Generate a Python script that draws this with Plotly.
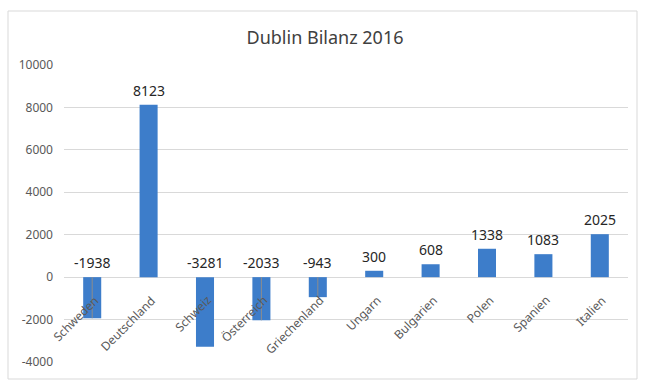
import plotly.graph_objects as go

categories = ["Schweden", "Deutschland", "Schweiz", "Österreich", "Griechenland",
              "Ungarn", "Bulgarien", "Polen", "Spanien", "Italien"]
values = [-1938, 8123, -3281, -2033, -943, 300, 608, 1338, 1083, 2025]
leader_categories = ["Schweden", "Österreich", "Griechenland"]
y_ticks = [-4000, -2000, 0, 2000, 4000, 6000, 8000, 10000]
title_text = "Dublin Bilanz 2016"

y_min, y_max = -4000, 10000
bar_color = "#3d7dca"
grid_color = "#d9d9d9"
font_family = "Noto Sans, Open Sans, sans-serif"

fig = go.Figure()
fig.add_trace(go.Bar(x=categories, y=values, marker=dict(color=bar_color, line=dict(width=0)),
                     width=0.32, showlegend=False, hoverinfo="x+y"))

annotations = []
for c, v in zip(categories, values):
    annotations.append(dict(x=c, y=max(v, 0), text=str(v), showarrow=False,
                            xanchor="center", yanchor="bottom", yshift=3,
                            font=dict(size=14, color="#262626", family=font_family)))
# category labels drawn above bars, rotated like the reference
for c in categories:
    annotations.append(dict(x=c, y=0, text=c, showarrow=False, textangle=-45,
                            xanchor="right", yanchor="top", xshift=13, yshift=-12,
                            font=dict(size=12, color="#595959", family=font_family)))

shapes = []
for c, v in zip(categories, values):
    if c in leader_categories:
        shapes.append(dict(type="line", xref="x", yref="y", x0=c, x1=c, y0=0, y1=v,
                           line=dict(color="#8c8c8c", width=1)))

# chart border
shapes.append(dict(type="rect", xref="paper", yref="paper",
                   x0=(8 - 64) / 564, x1=(637 - 64) / 564,
                   y0=(362 - 379) / 297, y1=(362 - 11) / 297,
                   line=dict(color="#d9d9d9", width=1), fillcolor="rgba(0,0,0,0)", layer="below"))

fig.update_layout(
    width=650, height=389,
    margin=dict(l=64, r=22, t=65, b=27, autoexpand=False),
    paper_bgcolor="white", plot_bgcolor="white",
    title=dict(text=title_text, x=0.5, xref="container", xanchor="center", y=1 - 38 / 389, yanchor="middle",
               font=dict(size=18, color="#404040", family=font_family)),
    font=dict(family=font_family, color="#595959"),
    annotations=annotations,
    shapes=shapes,
    yaxis=dict(range=[y_min, y_max], tickvals=y_ticks, ticktext=[str(t) for t in y_ticks],
               showgrid=True, gridcolor=grid_color, automargin=False,
               gridwidth=1, zeroline=True, zerolinecolor=grid_color, zerolinewidth=1,
               showline=False, ticks="", ticklabelstandoff=10,
               tickfont=dict(size=12, color="#595959", family=font_family)),
    xaxis=dict(range=[-0.5, len(categories) - 0.5], showticklabels=False, showline=False,
               showgrid=False, ticks="", zeroline=False, automargin=False),
)

fig.write_html("out.html", config={"displayModeBar": False},
               post_script="document.body.style.margin='0';")
